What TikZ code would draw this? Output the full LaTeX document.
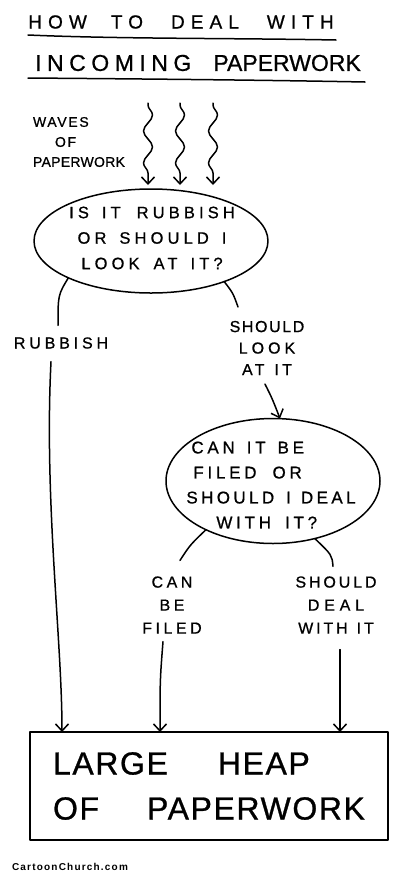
\documentclass[tikz,border=0pt]{standalone}
\usepackage{fontspec}
\setmainfont{Liberation Sans}
\usetikzlibrary{shapes.geometric,arrows.meta,decorations.pathmorphing,calc}
\newcommand\lsp[2]{{\addfontfeatures{LetterSpace=#1,FakeBold=0.8}#2}}
\newcommand\fsz[2]{\fontsize{#1}{#2}\selectfont}
\begin{document}
\begin{tikzpicture}[x=1pt,y=-1pt,
  every node/.style={inner sep=0pt, outer sep=0pt},
  ink/.style={line width=1.5pt, line cap=round, line join=round},
  tip/.style={-{Straight Barb[length=7pt,width=13pt]}},
  blob/.style={ellipse, draw, ink},
  wave/.style={ink, tip, decorate, decoration={snake, amplitude=4.5pt, segment length=32pt, pre length=2pt, post length=10pt}},
]
\useasboundingbox (0,0) rectangle (400,879);
\fill[white] (0,0) rectangle (400,879);

% title
\node[font=\fsz{19}{24}] (t1) at (181,22) {\lsp{32}{HOW\hspace{24pt}TO\hspace{28pt}DEAL\hspace{28pt}WITH}};
\node[font=\fsz{23}{28}] (t2) at (198,63) {\lsp{24}{INCOMING}\hspace{22pt}\lsp{0}{PAPERWORK}};
\draw[ink] (28,35) .. controls (120,39) and (230,38) .. (336,40);
\draw[ink] (28,78) .. controls (150,79) and (260,80) .. (365,82);

% waves
\node[font=\fsz{14}{20}, align=left, anchor=west] (wl) at (33,142) {\lsp{12}{WAVES}\\\hspace*{22pt}\lsp{12}{OF}\\\lsp{2}{PAPERWORK}};
\coordinate (w1) at (148,103);
\coordinate (w2) at (180,103);
\coordinate (w3) at (213,103);

% question 1
\node[blob, minimum width=234pt, minimum height=104pt] (q1) at (151,241) {};
\node[font=\fsz{16.5}{25.5}, align=center] (q1t) at (152,238) {\lsp{25}{IS\hspace{13pt}IT\hspace{16pt}RUBBISH}\\\lsp{25}{OR\hspace{13pt}SHOULD\hspace{13pt}I}\\\lsp{25}{LOOK\hspace{14pt}AT\hspace{13pt}IT?}};

\draw[wave] (w1) -- ($(w1 |- q1.north)+(0,-4)$);
\draw[wave] (w2) -- ($(w2 |- q1.north)+(0,-4)$);
\draw[wave] (w3) -- ($(w3 |- q1.north)+(0,-4)$);

% branch labels 1
\node[font=\fsz{16}{21.5}] (rub) at (61,343) {\lsp{24}{RUBBISH}};
\node[font=\fsz{16}{21.5}, align=center] (sl) at (267,348) {\lsp{10}{SHOULD}\\\lsp{25}{LOOK}\\\lsp{20}{AT\hspace{10pt}IT}};

% question 2
\node[blob, minimum width=214pt, minimum height=125pt] (q2) at (273,481) {};
\node[font=\fsz{17}{25}, align=left] (q2t) at (271,485) {\hspace*{5pt}\lsp{22}{CAN\hspace{12pt}IT\hspace{12pt}BE}\\\hspace*{7pt}\lsp{22}{FILED\hspace{16pt}OR}\\\lsp{20}{SHOULD\hspace{12pt}I\hspace{10pt}DEAL}\\\hspace*{30pt}\lsp{22}{WITH\hspace{14pt}IT?}};

% branch labels 2
\node[font=\fsz{16}{23}, align=center] (cf) at (172,605) {\lsp{22}{CAN}\\\lsp{22}{BE}\\\lsp{22}{FILED}};
\node[font=\fsz{16}{23}, align=center] (sd) at (336,605) {\lsp{18}{SHOULD}\\\lsp{30}{DEAL}\\\lsp{18}{WITH\hspace{9pt}IT}};

% heap
\node[draw, ink, minimum width=358pt, minimum height=108pt, font=\fsz{32}{45}, align=left] (heap) at (209,786) {\lsp{5}{LARGE\hspace{50pt}HEAP}\\\lsp{5}{OF\hspace{48pt}PAPERWORK}};

% connectors
\draw[ink] (q1.204) .. controls (58,295) .. ($(rub.north)+(-3,-12)$);
\draw[ink, tip] ($(rub.south)+(-10,13)$) .. controls (44,500) and (62,640) .. ($(heap.north west)+(32,0)$);
\draw[ink] (q1.331) .. controls (233,293) .. ($(sl.north)+(-29,-14)$);
\draw[ink, tip] ($(sl.south)+(-2,9)$) .. controls (272,398) .. ($(q2.north)+(7,0)$);
\draw[ink] (q2.216) .. controls (190,545) .. ($(cf.north)+(8,-16)$);
\draw[ink, tip] ($(cf.south)+(-9,8)$) .. controls (160,680) .. ($(heap.north west)+(130,0)$);
\draw[ink] (q2.306) .. controls (332,555) .. ($(sd.north)+(-3,-10)$);
\draw[ink, tip] ($(sd.south)+(4,16)$) -- ($(heap.north west)+(310,0)$);

% credit
\node[font=\bfseries\fsz{10}{12}] (credit) at (70,867) {{\addfontfeatures{LetterSpace=12}CartoonChurch.com}};
\end{tikzpicture}
\end{document}
